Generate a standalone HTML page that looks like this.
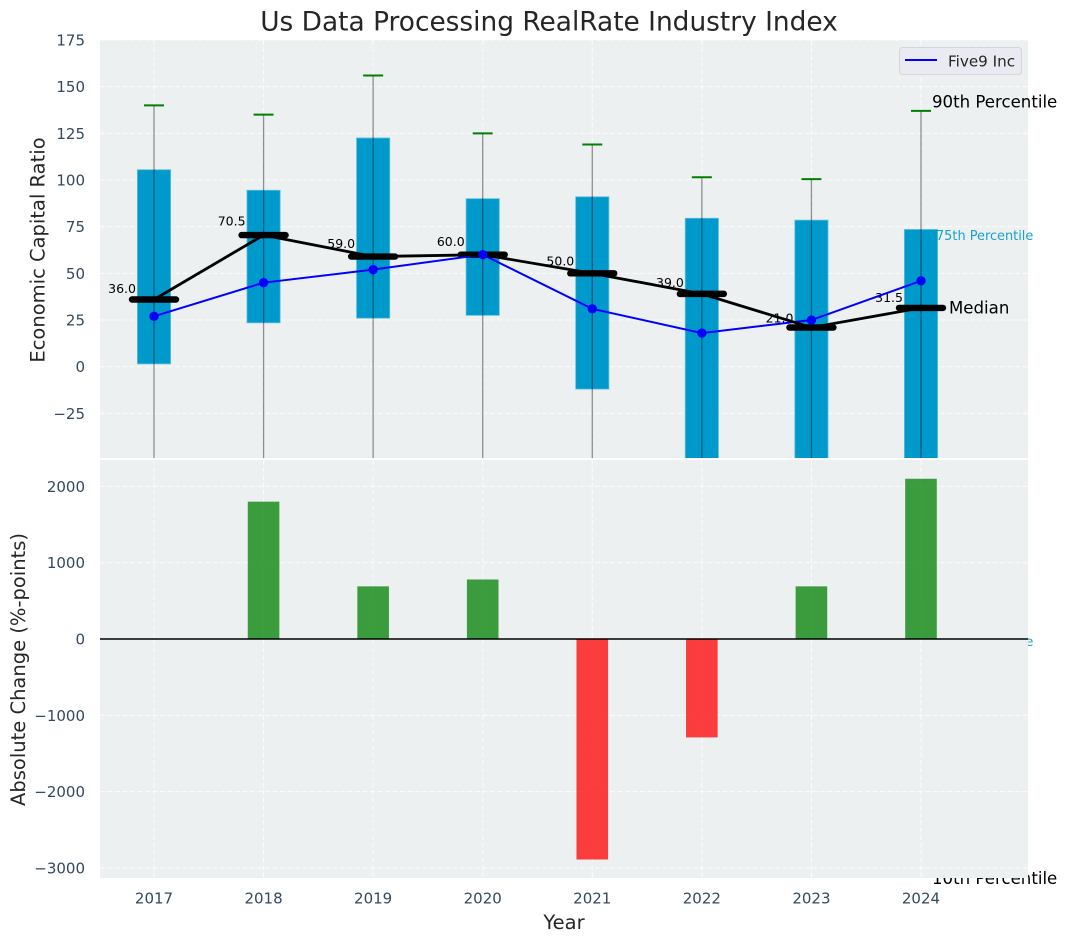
<!DOCTYPE html>
<html lang="en">
<head>
<meta charset="utf-8">
<title>Us Data Processing RealRate Industry Index</title>
<style>
html,body{margin:0;padding:0;background:#fff;width:1067px;height:942px;overflow:hidden}
svg{display:block;font-family:"DejaVu Sans","Liberation Sans",sans-serif}
</style>
</head>
<body>
<svg id="chart" xmlns="http://www.w3.org/2000/svg" width="1067" height="942" viewBox="0 0 1067 942">
<defs>
<clipPath id="clip-top"><rect x="100" y="40" width="928" height="418"/></clipPath>
<clipPath id="clip-bottom"><rect x="100" y="460" width="928" height="418"/></clipPath>
</defs>
<text x="549" y="30.5" text-anchor="middle" font-size="26.4" fill="#262626">Us Data Processing RealRate Industry Index</text>
<text transform="translate(44.5,250) rotate(-90)" text-anchor="middle" font-size="19.5" fill="#262626">Economic Capital Ratio</text>
<text transform="translate(25,669.5) rotate(-90)" text-anchor="middle" font-size="19.5" fill="#262626">Absolute Change (%-points)</text>
<text x="564" y="929" text-anchor="middle" font-size="19.5" fill="#262626">Year</text>
<g id="top-panel"></g>
<g id="overflow-text"></g>
<g id="bottom-panel"></g>
<g id="legend">
<rect x="899.5" y="47.5" width="122" height="27" rx="3" fill="#eaeaf2" stroke="#d4d5d8"/>
<line x1="905" y1="60" x2="937" y2="60" stroke="#0000ff" stroke-width="2"/>
<text x="948" y="66.5" font-size="15.2" fill="#262626">Five9 Inc</text>
</g>
</svg>
<script>
const years = [2017, 2018, 2019, 2020, 2021, 2022, 2023, 2024];
const q90 = [140, 135, 156, 125, 119, 101.5, 100.5, 137];
const q75 = [105.5, 94.5, 122.5, 90, 91, 79.5, 78.5, 73.5];
const medians = [36, 70.5, 59, 60, 50, 39, 21, 31.5];
const q25 = [1.5, 23.5, 26, 27.5, -12, -60, -70, -144];
const q10 = [-80, -70, -75, -70, -90, -150, -200, -274];
const company = [27, 45, 52, 60, 31, 18, 25, 46];
const changes = [0, 1800, 690, 780, -2890, -1290, 690, 2100];
const topTicks = [175, 150, 125, 100, 75, 50, 25, 0, -25];
const bottomTicks = [2000, 1000, 0, -1000, -2000, -3000];

const NS = 'http://www.w3.org/2000/svg';
const xScale = v => 154 + (v - 2017) * 109.57;
const yTop = v => 366.7 - v * 1.867;
const yBottom = v => 639 - v * 0.0763;
const fmt = v => String(v).replace('-', '\u2212');
const last = years.length - 1;

function make(parent, tag, attrs, text) {
  const el = document.createElementNS(NS, tag);
  for (const k in attrs) el.setAttribute(k, attrs[k]);
  if (text !== undefined) el.textContent = text;
  parent.appendChild(el);
  return el;
}
function line(parent, x1, y1, x2, y2, attrs) {
  return make(parent, 'line', Object.assign({x1, y1, x2, y2}, attrs));
}
const grid = {stroke: '#ffffff', 'stroke-width': 1, 'stroke-dasharray': '5 2.5', opacity: 0.85};
const topPanel = document.getElementById('top-panel');
const bottomPanel = document.getElementById('bottom-panel');
const overflow = document.getElementById('overflow-text');

/* ---------- top panel ---------- */
const topBg = make(topPanel, 'rect', {x: 100, y: 40, width: 928, height: 418, fill: '#ecf0f1'});



const topClip = make(topPanel, 'g', {'clip-path': 'url(#clip-top)'});



topTicks.forEach(t => {
  const g = line(topClip, 100, yTop(t), 1028, yTop(t), grid);
  
  
  const lab = make(topPanel, 'text', {x: 85, y: yTop(t) + 5.5, 'text-anchor': 'end', 'font-size': 15, fill: '#34495e'}, fmt(t));
  
  
});
years.forEach(y => {
  const g = line(topClip, xScale(y), 40, xScale(y), 458, grid);
  
  
});
years.forEach((y, i) => {
  const x = xScale(y);
  const box = make(topClip, 'rect', {x: x - 16.6, y: yTop(q75[i]), width: 33.2, height: yTop(q25[i]) - yTop(q75[i]), fill: '#0099cc', stroke: '#5cbfe0', 'stroke-width': 0.8});
  
  
  const w = line(topClip, x, yTop(q90[i]), x, yTop(q10[i]), {stroke: '#000', 'stroke-opacity': 0.42, 'stroke-width': 1.3});
  
  
  const cap = line(topClip, x - 10, yTop(q90[i]), x + 10, yTop(q90[i]), {stroke: '#008000', 'stroke-width': 2});
  
  
  const lab = make(topClip, 'text', {x: x - 18, y: yTop(medians[i] * 1.05) - 3, 'text-anchor': 'end', 'font-size': 12.5, fill: '#000'}, medians[i].toFixed(1));
  
  
});
years.forEach((y, i) => {
  const x = xScale(y);
  const m = line(topClip, x - 22, yTop(medians[i]), x + 22, yTop(medians[i]), {stroke: '#000', 'stroke-width': 6.4, 'stroke-linecap': 'round'});
  
  
});
const bluePts = years.map((y, i) => xScale(y) + ',' + yTop(company[i])).join(' ');
const blue = make(topClip, 'polyline', {points: bluePts, fill: 'none', stroke: '#0000ff', 'stroke-width': 2});


const medPts = years.map((y, i) => xScale(y) + ',' + yTop(medians[i])).join(' ');
const medLine = make(topClip, 'polyline', {points: medPts, fill: 'none', stroke: '#000', 'stroke-width': 2.8});


years.forEach((y, i) => {
  const d = make(topClip, 'circle', {cx: xScale(y), cy: yTop(company[i]), r: 4.7, fill: '#0000ff'});
  
  
});

/* ---------- annotations on the final year (sit under the lower panel) ---------- */
const annX = xScale(years[last]);
const a90 = make(overflow, 'text', {x: annX + 11, y: yTop(q90[last]) - 3.5, 'font-size': 16.6, fill: '#000'}, '90th Percentile');


const a75 = make(overflow, 'text', {x: annX + 15, y: yTop(q75[last]) + 10.5, 'font-size': 12.9, fill: '#0099cc', opacity: 0.9}, '75th Percentile');


const aMed = make(overflow, 'text', {x: annX + 28, y: yTop(medians[last]) + 5.5, 'font-size': 16.6, fill: '#000'}, 'Median');


const a25 = make(overflow, 'text', {x: annX + 15, y: yTop(q25[last]) + 10.5, 'font-size': 12.9, fill: '#0099cc', opacity: 0.9}, '25th Percentile');


const a10 = make(overflow, 'text', {x: annX + 11, y: yTop(q10[last]) + 5.5, 'font-size': 16.6, fill: '#000'}, '10th Percentile');



/* ---------- bottom panel ---------- */
const botBg = make(bottomPanel, 'rect', {x: 100, y: 460, width: 928, height: 418, fill: '#ecf0f1'});



const botClip = make(bottomPanel, 'g', {'clip-path': 'url(#clip-bottom)'});



bottomTicks.forEach(t => {
  const g = line(botClip, 100, yBottom(t), 1028, yBottom(t), grid);
  
  
  const lab = make(bottomPanel, 'text', {x: 85, y: yBottom(t) + 5.5, 'text-anchor': 'end', 'font-size': 15, fill: '#34495e'}, fmt(t));
  
  
});
years.forEach(y => {
  const g = line(botClip, xScale(y), 460, xScale(y), 878, grid);
  
  
  const lab = make(bottomPanel, 'text', {x: xScale(y), y: 903.5, 'text-anchor': 'middle', 'font-size': 15, fill: '#34495e'}, String(y));
  
  
});
years.forEach((y, i) => {
  const v = changes[i];
  const top = Math.min(yBottom(v), yBottom(0));
  const h = Math.abs(yBottom(v) - yBottom(0));
  const bar = make(botClip, 'rect', {x: xScale(y) - 15.8, y: top, width: 31.6, height: h, fill: v >= 0 ? '#008000' : '#ff0000', 'fill-opacity': 0.75});
  
  
});
const zero = line(bottomPanel, 100, yBottom(0), 1028, yBottom(0), {stroke: '#000', 'stroke-width': 1.5});


</script>
</body>
</html>
